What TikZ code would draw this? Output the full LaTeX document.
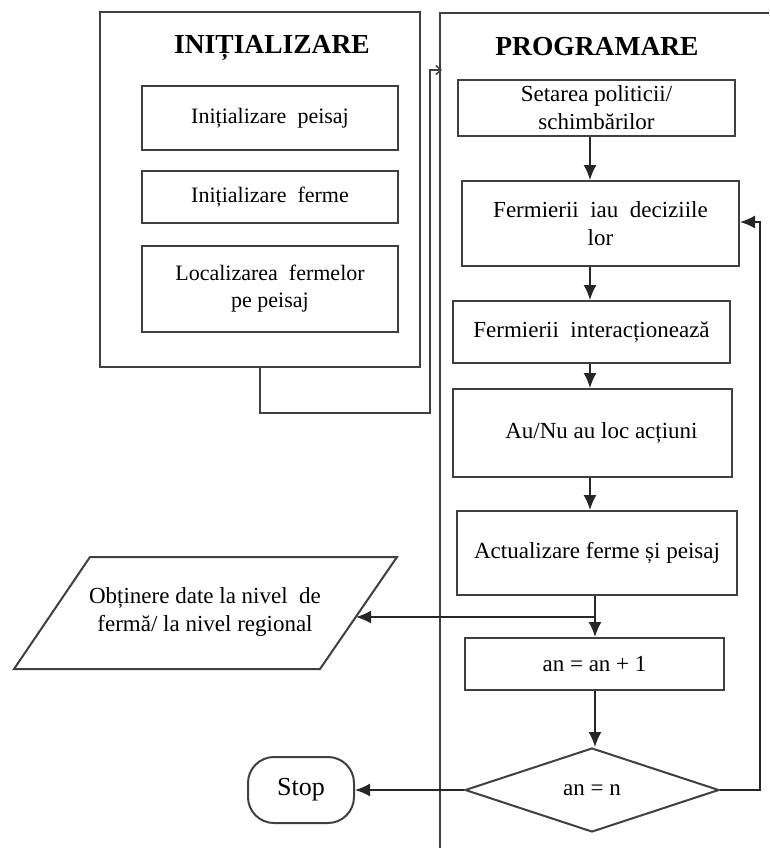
\documentclass[tikz,border=0pt]{standalone}
\usepackage{fontspec}
\setmainfont{Liberation Serif}
\usetikzlibrary{shapes.geometric,arrows.meta}
\begin{document}
\begin{tikzpicture}[x=1pt,y=-1pt,
  ln/.style={draw=black!75, line width=2pt},
  box/.style={ln, rectangle, align=center, inner sep=0pt, font=\fontsize{23}{28}\selectfont},
  lbox/.style={box, font=\fontsize{22}{27}\selectfont},
  ttl/.style={font=\fontsize{27.5}{30}\selectfont\bfseries},
  arr/.style={draw=black!85, line width=1.7pt, -{Latex[length=15pt,width=13pt]}},
  plain/.style={draw=black!85, line width=1.7pt}]
\fill[white] (0,0) rectangle (769,848);
\useasboundingbox (0,0) rectangle (769,848);

% INITIALIZARE frame
\node[ln, rectangle, minimum width=320pt, minimum height=355pt, inner sep=0pt] (init) at (260,189.5) {};
\node[ttl] (tinit) at (272,48) {INIȚIALIZARE};
\node[lbox, minimum width=256pt, minimum height=64pt] (ip) at (270,118) {Inițializare\ \ peisaj};
\node[lbox, minimum width=256pt, minimum height=52pt] (if) at (270,197) {Inițializare\ \ ferme};
\node[lbox, minimum width=256pt, minimum height=86pt] (lf) at (270,289) {Localizarea\ \ fermelor\\pe peisaj};

% PROGRAMARE frame
\coordinate (pb) at (440,848);
\coordinate (ptl) at (440,13);
\coordinate (ptr) at (769,13);
\draw[ln] (pb) -- (ptl) -- (ptr);
\node[ttl] (tprog) at (597,47) {PROGRAMARE};

\node[box, minimum width=277pt, minimum height=56pt] (set) at (596.5,108) {Setarea politicii/\\schimbărilor};
\node[box, minimum width=277pt, minimum height=85pt] (fiau) at (600.5,223.5) {Fermierii\ \ iau\ \ deciziile\\lor};
\node[box, minimum width=277pt, minimum height=62pt] (fint) at (591.5,332) {Fermierii\ \ interacționează};
\node[box, minimum width=279pt, minimum height=88pt] (aunu) at (592.5,433) {\hspace*{18pt}Au/Nu au loc acțiuni};
\node[box, minimum width=280pt, minimum height=84pt] (act) at (597,553) {Actualizare ferme și peisaj};
\node[box, minimum width=259pt, minimum height=52pt] (incr) at (594.5,664) {an = an + 1};
\node[ln, diamond, inner sep=0pt, minimum width=254pt, minimum height=84pt, font=\fontsize{23}{28}\selectfont] (dec) at (592,790) {an = n};

% Stop
\node[ln, rectangle, rounded corners=26pt, minimum width=106pt, minimum height=66pt, inner sep=0pt, font=\fontsize{26}{30}\selectfont] (stop) at (301,790) {Stop};

% Parallelogram
\coordinate (p1) at (14,669);
\coordinate (p2) at (90,557);
\coordinate (p3) at (397,557);
\coordinate (p4) at (320,669);
\draw[ln] (p1) -- (p2) -- (p3) -- (p4) -- cycle;
\node[align=center, font=\fontsize{23}{28}\selectfont] (obt) at (205,612) {Obținere date la nivel\ \ de\\fermă/ la nivel regional};
\coordinate (pin) at (356,617);

% connector from INITIALIZARE
\coordinate (c1) at (260,413);
\coordinate (c2) at (430,413);
\coordinate (c3) at (430,70);
\coordinate (c4) at (442,70);
\draw[draw=black!75, line width=1.5pt, -{Straight Barb[length=5pt,width=9pt]}] (init.south) -- (c1) -- (c2) -- (c3) -- (c4);

% vertical arrows
\coordinate (ax) at (590,0);
\coordinate (bx) at (595,0);
\draw[arr] (set.south -| ax) -- (fiau.north -| ax);
\draw[arr] (fiau.south -| ax) -- (fint.north -| ax);
\draw[arr] (fint.south -| ax) -- (aunu.north -| ax);
\draw[arr] (aunu.south -| ax) -- (act.north -| ax);
\draw[arr] (act.south -| bx) -- (incr.north -| bx);
\coordinate (br) at (595,617);
\draw[arr] (br) -- (pin);
\draw[arr] (incr.south -| bx) -- (dec.north -| bx);
\draw[arr] (dec.west) -- (stop.east);

% feedback loop
\coordinate (f1) at (760,790);
\coordinate (f2) at (760,222);
\draw[arr] (dec.east) -- (f1) -- (f2) -- (f2 -| fiau.east);
\end{tikzpicture}
\end{document}
